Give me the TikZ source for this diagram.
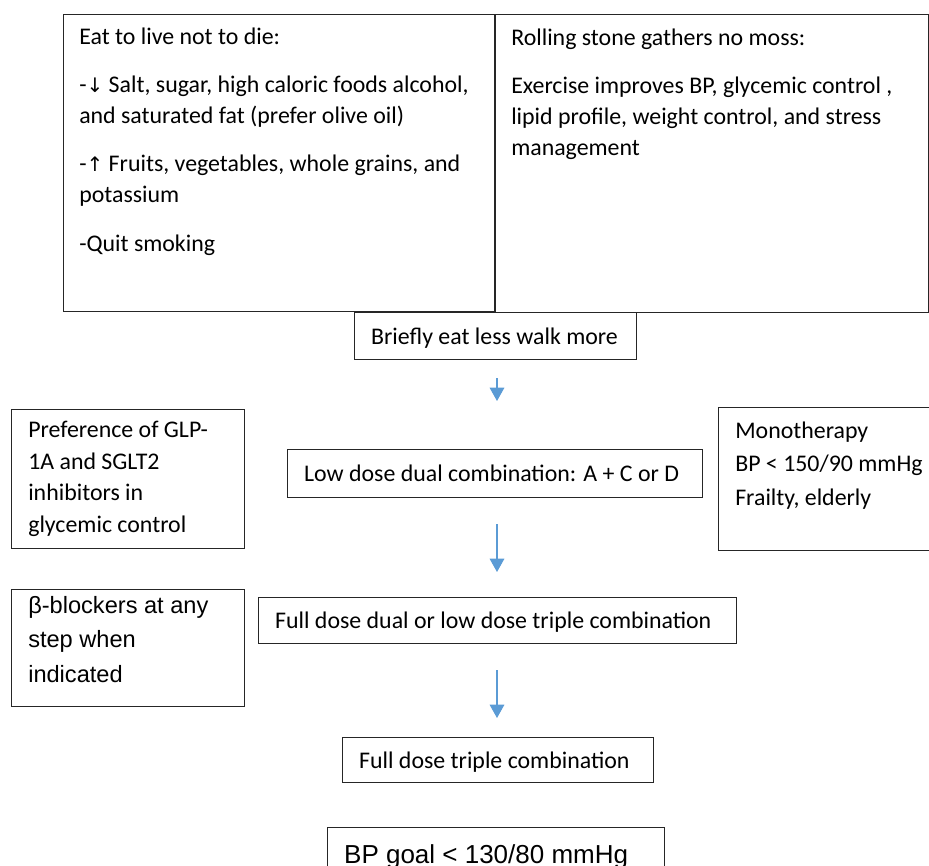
\documentclass[tikz,border=0pt]{standalone}
\usepackage{fontspec}
\setmainfont{Carlito}
\newfontfamily\arialf{Liberation Sans}
\newfontfamily\symf{DejaVu Sans}
\usetikzlibrary{arrows.meta}
\definecolor{arrowblue}{HTML}{5B9BD5}
\definecolor{boxline}{HTML}{262626}
\begin{document}
\begin{tikzpicture}[x=0.75pt, y=-0.75pt,
  box/.style={draw=boxline, line width=1pt, rectangle, inner sep=0pt, anchor=north west},
  txt/.style={inner sep=0pt, anchor=north west, align=left},
  one/.style={box, inner xsep=12.375pt, inner ysep=0pt, text height=13.5pt, text depth=1.5pt, font=\fontsize{17.9}{22}\selectfont},
  flow/.style={draw=arrowblue, line width=0.8pt, -{Triangle[width=11pt,length=10pt]}}
]
\useasboundingbox (0,0) rectangle (929,866);
\clip (0,0) rectangle (929,866);

% top boxes
\node[box, minimum width=324pt, minimum height=222.75pt] (eat) at (63,14) {};
\node[box, minimum width=325.5pt, minimum height=223.5pt] (roll) at (494,14) {};
\node[txt, font=\fontsize{17.9}{23.25}\selectfont] (eatT) at (79,22) {\rule{0pt}{16.5pt}Eat to live not to die:\\[13pt]
-{\symf\fontsize{15}{15}\selectfont ↓} Salt, sugar, high caloric foods alcohol,\\
and saturated fat (prefer olive oil)\\[13pt]
-{\symf\fontsize{15}{15}\selectfont ↑} Fruits, vegetables, whole grains, and\\
potassium\\[13pt]
-Quit smoking};
\node[txt, font=\fontsize{17.9}{23.25}\selectfont] (rollT) at (511,23) {\rule{0pt}{16.5pt}Rolling stone gathers no moss:\\[12.75pt]
Exercise improves BP, glycemic control ,\\
lipid profile, weight control, and stress\\
management};

% central flow
\node[one, minimum height=35.25pt] (brief) at (354,312) {\makebox[186.75pt][l]{Briefly eat less walk more}};
\node[one, minimum height=36pt] (low) at (287,449) {\makebox[286.5pt][l]{Low dose dual combination: A + C or D}};
\node[one, minimum height=34.5pt] (dual) at (258,597) {\makebox[333.75pt][l]{Full dose dual or low dose triple combination}};
\node[one, minimum height=33.75pt] (triple) at (342,737) {\makebox[208.5pt][l]{Full dose triple combination}};
\node[one, minimum height=41pt, text height=15pt, text depth=3pt, font=\arialf\fontsize{19.5}{23}\selectfont] (goal) at (327,827) {\makebox[228pt][l]{BP goal < 130/80 mmHg}};

% side boxes
\node[box, minimum width=174.75pt, minimum height=104.25pt] (pref) at (11,409) {};
\node[txt, font=\fontsize{17.9}{23.8}\selectfont] (prefT) at (28,415) {\rule{0pt}{16.5pt}Preference of GLP-\\1A and SGLT2\\inhibitors in\\glycemic control};
\node[box, minimum width=165pt, minimum height=107.25pt] (mono) at (718,407) {};
\node[txt, font=\fontsize{17.9}{25.1}\selectfont] (monoT) at (735,416) {\rule{0pt}{16.5pt}Monotherapy\\BP < 150/90 mmHg\\Frailty, elderly};
\node[box, minimum width=174.75pt, minimum height=87.75pt] (beta) at (11,589) {};
\node[txt, font=\arialf\fontsize{17.7}{25.9}\selectfont] (betaT) at (28,591) {\rule{0pt}{16.5pt}β-blockers at any\\step when\\indicated};

% arrows
\coordinate (ax) at (497,0);
\draw[flow, shorten <=13.5pt, shorten >=36pt] (brief.south -| ax) -- (low.north -| ax);
\draw[flow, shorten <=19.5pt, shorten >=18.75pt] (low.south -| ax) -- (dual.north -| ax);
\draw[flow, shorten <=19.5pt, shorten >=14.25pt] (dual.south -| ax) -- (triple.north -| ax);
\end{tikzpicture}
\end{document}
